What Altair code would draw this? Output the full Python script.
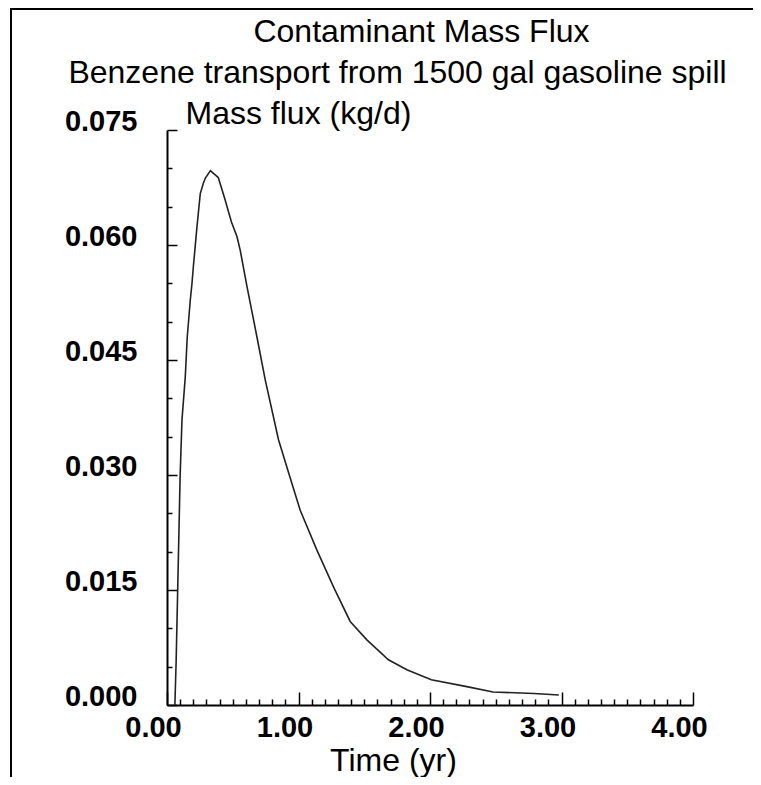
import altair as alt
import pandas as pd

# Curve (time in years, mass flux in kg/d)
time_yr = [0.06, 0.07, 0.085, 0.10, 0.114, 0.139, 0.154, 0.177, 0.19, 0.20,
           0.228, 0.253, 0.277, 0.291, 0.33, 0.39, 0.44, 0.49, 0.532, 0.557,
           0.608, 0.684, 0.747, 0.848, 0.93, 1.013, 1.14, 1.266, 1.393, 1.52,
           1.684, 1.824, 2.01, 2.28, 2.48, 2.79, 2.98]
mass_flux = [0.0, 0.006, 0.018, 0.030, 0.0372, 0.0428, 0.0480, 0.0528, 0.0550, 0.0571,
             0.0624, 0.0667, 0.0681, 0.0687, 0.0697, 0.0688, 0.0660, 0.0630, 0.0611, 0.0593,
             0.0546, 0.0480, 0.0424, 0.0346, 0.0300, 0.0254, 0.0202, 0.0154, 0.0109, 0.0085,
             0.0059, 0.0046, 0.0033, 0.0024, 0.0017, 0.0015, 0.0013]

x_major = [0, 1, 2, 3, 4]
x_minor = [0.1, 0.2, 0.3, 0.4, 0.5, 0.6, 0.7, 0.8, 0.9,
           1.1, 1.2, 1.3, 1.4, 1.5, 1.6, 1.7, 1.8, 1.9,
           2.1, 2.2, 2.3, 2.4, 2.5, 2.6, 2.7, 2.8, 2.9,
           3.1, 3.2, 3.3, 3.4, 3.5, 3.6, 3.7, 3.8, 3.9]
y_major = [0.0, 0.015, 0.030, 0.045, 0.060, 0.075]
y_minor = [0.005, 0.010, 0.020, 0.025, 0.035, 0.040, 0.050, 0.055, 0.065, 0.070]

title_text = "Contaminant Mass Flux"
subtitle_text = "Benzene transport from 1500 gal gasoline spill"
y_title = "Mass flux (kg/d)"
x_title = "Time (yr)"

W, H = 526, 575
TICK_FONT = "Liberation Sans, Arial, sans-serif"
TEXT_FONT = "Liberation Sans, Arial, sans-serif"

df = pd.DataFrame({"t": time_yr, "m": mass_flux})
xs = alt.Scale(domain=[0, 4], nice=False, zero=False)
ys = alt.Scale(domain=[0, 0.075], nice=False, zero=False)

common_axis = dict(grid=False, domainColor="black", tickColor="black",
                   labelColor="black", titleColor="black")

# main layer: the curve, with domain lines, labels and the two axis titles
line = alt.Chart(df).mark_line(color="#222222", strokeWidth=1.6).encode(
    x=alt.X("t:Q", scale=xs, axis=alt.Axis(
        orient="bottom", values=x_major, format=".2f", ticks=False,
        domainWidth=2, labelFont=TICK_FONT, labelFontSize=29, labelFontWeight="bold",
        labelPadding=8, labelOffset=-14, labelOverlap=False, labelFlush=False,
        title=x_title, titleFont=TEXT_FONT, titleFontSize=32, titleFontWeight="normal",
        titleX=226, titleY=65, titleAlign="center", titleBaseline="alphabetic",
        **common_axis)),
    y=alt.Y("m:Q", scale=ys, axis=alt.Axis(
        orient="left", values=y_major, format=".3f", ticks=False,
        domainWidth=2, labelFont=TICK_FONT, labelFontSize=29, labelFontWeight="bold",
        labelPadding=30, labelBaseline="alphabetic", labelAlign="right",
        labelOverlap=False, labelFlush=False,
        title=y_title, titleFont=TEXT_FONT, titleFontSize=32, titleFontWeight="normal",
        titleAngle=0, titleX=18, titleY=-7, titleAlign="left", titleBaseline="alphabetic",
        **common_axis)),
)

# inward major ticks (axes moved onto the opposite edge) + chart title lines
major = alt.Chart(df).mark_point(opacity=0).encode(
    x=alt.X("t:Q", scale=xs, axis=alt.Axis(
        orient="top", offset=-H, values=x_major, labels=False, domain=False,
        tickSize=13, tickWidth=1.5, title=None, **common_axis)),
    y=alt.Y("m:Q", scale=ys, axis=alt.Axis(
        orient="right", offset=-W, values=y_major, labels=False, domain=False,
        tickSize=10, tickWidth=1.5,
        title=title_text, titleFont=TEXT_FONT, titleFontSize=32, titleFontWeight="normal",
        titleAngle=0, titleX=254, titleY=-89, titleAlign="center", titleBaseline="alphabetic",
        **common_axis)),
)

minor = alt.Chart(df).mark_point(opacity=0).encode(
    x=alt.X("t:Q", scale=xs, axis=alt.Axis(
        orient="top", offset=-H, values=x_minor, labels=False, domain=False,
        tickSize=6, tickWidth=1.5, title=None, **common_axis)),
    y=alt.Y("m:Q", scale=ys, axis=alt.Axis(
        orient="right", offset=-W, values=y_minor, labels=False, domain=False,
        tickSize=5, tickWidth=1.5,
        title=subtitle_text, titleFont=TEXT_FONT, titleFontSize=32, titleFontWeight="normal",
        titleAngle=0, titleX=230, titleY=-48, titleAlign="center", titleBaseline="alphabetic",
        **common_axis)),
)

# frame lines of the figure (top and left edge)
frame_df = pd.DataFrame({"k": [0]})
top_edge = alt.Chart(frame_df).mark_rule(color="black", strokeWidth=2).encode(
    x=alt.value(-157), x2=alt.value(W + 60), y=alt.value(-121))
left_edge = alt.Chart(frame_df).mark_rule(color="black", strokeWidth=2).encode(
    x=alt.value(-156), y=alt.value(-122), y2=alt.value(H + 72))

chart = alt.layer(line, major, minor, top_edge, left_edge).resolve_axis(
    x="independent", y="independent"
).properties(
    width=W, height=H,
    autosize=alt.AutoSizeParams(type="none"),
    padding={"left": 159, "top": 122, "right": 60, "bottom": 72},
    background="white",
).configure_view(stroke=None)

chart.save("out.html", embed_options={"renderer": "svg", "actions": False})
